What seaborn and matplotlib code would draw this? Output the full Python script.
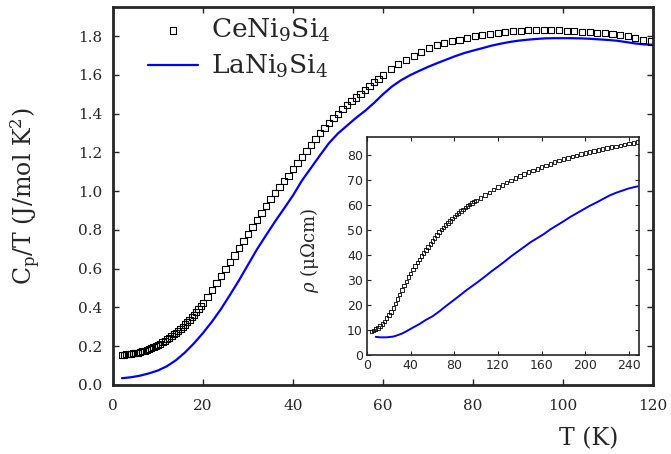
import numpy as np
import pandas as pd
import matplotlib
matplotlib.use('Agg')
import matplotlib.pyplot as plt
import seaborn as sns

# --- specific heat Cp/T (J/mol K^2) ---
ce_T = [2.0, 2.5, 3.0, 3.5, 4.0, 4.5, 5.0, 5.5, 6.0, 6.5, 7.0, 7.5, 8.0, 8.5, 9.0, 9.5,
        10.0, 10.5, 11.0, 11.5, 12.0, 12.5, 13.0, 13.5, 14.0, 14.5, 15.0, 15.5, 16.0, 16.5,
        17.0, 17.5, 18.0, 18.5, 19.0, 19.5, 20.0,
        21, 22, 23, 24, 25, 26, 27, 28, 29, 30, 31, 32, 33, 34, 35, 36, 37, 38, 39, 40,
        41, 42, 43, 44, 45, 46, 47, 48, 49, 50, 51, 52, 53, 54, 55, 56, 57, 58, 59, 60,
        61.7, 63.4, 65.1, 66.8, 68.5, 70.2, 71.9, 73.6, 75.3, 77.0, 78.7, 80.4, 82.1, 83.8,
        85.5, 87.2, 88.9, 90.6, 92.3, 94.0, 95.7, 97.4, 99.1, 100.8, 102.5, 104.2, 105.9,
        107.6, 109.3, 111.0, 112.7, 114.4, 116.1, 117.8, 119.5]
ce_cp = [0.155, 0.157, 0.158, 0.159, 0.161, 0.163, 0.165, 0.167, 0.170, 0.173, 0.177, 0.181,
         0.186, 0.191, 0.196, 0.201, 0.207, 0.213, 0.220, 0.227, 0.235, 0.243, 0.252, 0.261,
         0.270, 0.280, 0.290, 0.301, 0.312, 0.324, 0.337, 0.350, 0.363, 0.377, 0.392, 0.407,
         0.423,
         0.455, 0.490, 0.525, 0.560, 0.597, 0.633, 0.668, 0.705, 0.742, 0.778, 0.815, 0.852,
         0.888, 0.924, 0.958, 0.990, 1.020, 1.050, 1.080, 1.112,
         1.144, 1.176, 1.208, 1.240, 1.270, 1.298, 1.325, 1.350, 1.376, 1.400, 1.422, 1.443,
         1.463, 1.483, 1.503, 1.523, 1.543, 1.562, 1.580, 1.598,
         1.628, 1.655, 1.677, 1.697, 1.718, 1.737, 1.752, 1.763, 1.773, 1.782, 1.790, 1.798,
         1.806, 1.812, 1.818, 1.822, 1.826, 1.828, 1.830, 1.831, 1.833, 1.833, 1.831, 1.828,
         1.824, 1.821, 1.819, 1.818, 1.815, 1.812, 1.806, 1.798, 1.790, 1.780, 1.772]

la_T = [2, 4, 6, 8, 10, 12, 14, 16, 18, 20, 22, 24, 26, 28, 30, 32, 34, 36, 38, 40, 42, 44,
        46, 48, 50, 52, 54, 56, 58, 60, 62, 64, 66, 68, 70, 72, 74, 76, 78, 80, 82, 84, 86,
        88, 90, 92, 94, 96, 98, 100, 102, 104, 106, 108, 110, 112, 114, 116, 118, 120]
la_cp = [0.035, 0.040, 0.048, 0.060, 0.075, 0.097, 0.128, 0.168, 0.215, 0.268, 0.327, 0.392,
         0.465, 0.540, 0.620, 0.700, 0.772, 0.843, 0.910, 0.978, 1.055, 1.120, 1.185, 1.248,
         1.298, 1.338, 1.378, 1.414, 1.455, 1.500, 1.540, 1.572, 1.598, 1.620, 1.641, 1.660,
         1.678, 1.696, 1.712, 1.725, 1.737, 1.750, 1.760, 1.769, 1.776, 1.781, 1.785, 1.788,
         1.789, 1.789, 1.789, 1.788, 1.786, 1.783, 1.780, 1.776, 1.769, 1.762, 1.757, 1.755]

# --- resistivity (inset), micro-ohm cm ---
ce_rT = [4, 6, 8, 10, 12, 14, 16, 18, 20, 22, 24, 26, 28, 30, 32, 34, 36, 38,
         40, 42, 44, 46, 48, 50, 52, 54, 56, 58, 60, 62, 64, 66, 68, 70, 72, 74, 76, 78,
         80, 82, 84, 86, 88, 90, 92, 94, 96, 98, 100,
         104, 108, 112, 116, 120, 124, 128, 132, 136, 140, 144, 148, 152, 156, 160, 164,
         168, 172, 176, 180, 184, 188, 192, 196, 200, 204, 208, 212, 216, 220, 224, 228,
         232, 236, 240, 244, 248]
ce_rho = [9.3, 9.7, 10.2, 10.7, 11.5, 12.3, 13.3, 14.6, 15.9, 17.1, 18.6, 20.4, 22.3, 24.1,
          25.9, 27.6, 29.3, 31.0,
          32.5, 34.0, 35.5, 36.8, 38.1, 39.4, 40.7, 41.9, 43.1, 44.3, 45.5, 46.6, 47.9, 49.0,
          50.0, 50.9, 51.8, 52.6, 53.5, 54.4, 55.2, 56.0, 56.7, 57.4, 58.1, 58.8, 59.5, 60.1,
          60.7, 61.2, 61.7,
          62.7, 63.8, 64.9, 66.0, 67.0, 67.9, 68.8, 69.7, 70.6, 71.4, 72.2, 73.0, 73.7, 74.3,
          75.0, 75.7, 76.3, 77.0, 77.6, 78.2, 78.7, 79.2, 79.7, 80.2, 80.6, 81.1, 81.5, 81.9,
          82.3, 82.7, 83.0, 83.3, 83.7, 84.0, 84.4, 84.7, 85.1]

la_rT = [8, 12, 18, 24, 27, 32, 36, 42, 48, 54, 60, 66, 72, 78, 84, 90, 96, 102, 108, 114,
         120, 126, 132, 138, 144, 150, 156, 162, 168, 174, 180, 186, 192, 198, 204, 210, 216,
         222, 228, 234, 240, 248]
la_rho = [7.1, 6.9, 6.9, 7.2, 7.6, 8.4, 9.3, 10.8, 12.2, 13.9, 15.3, 17.2, 19.3, 21.3, 23.3,
          25.4, 27.3, 29.2, 31.2, 33.3, 35.2, 37.2, 39.3, 41.2, 43.1, 45.0, 46.6, 48.2, 50.1,
          51.7, 53.3, 55.0, 56.5, 58.0, 59.5, 60.8, 62.2, 63.6, 64.7, 65.6, 66.5, 67.3]

ce = pd.DataFrame({'T': ce_T, 'cp': ce_cp})
la = pd.DataFrame({'T': la_T, 'cp': la_cp})
ce_r = pd.DataFrame({'T': ce_rT, 'rho': ce_rho})
la_r = pd.DataFrame({'T': la_rT, 'rho': la_rho})

sns.set_style('ticks')
plt.rcParams['font.family'] = ['DejaVu Serif']
plt.rcParams['mathtext.fontset'] = 'dejavuserif'
plt.rcParams['mathtext.default'] = 'regular'

fig = plt.figure(figsize=(6.71, 4.54), dpi=100)
ax = fig.add_axes([0.1684, 0.152, 0.8048, 0.8326])

sns.scatterplot(data=ce, x='T', y='cp', ax=ax, marker='s', s=19, facecolor='none',
                edgecolor='black', linewidth=0.8, label='CeNi$_9$Si$_4$', zorder=3)
sns.lineplot(data=la, x='T', y='cp', ax=ax, color='#0000ff', linewidth=1.6,
             label='LaNi$_9$Si$_4$', zorder=2)

ax.set_xlim(0, 120)
ax.set_ylim(0, 1.95)
ax.set_xticks(np.arange(0, 121, 20))
ax.set_yticks(np.arange(0, 1.81, 0.2))
ax.set_yticklabels(['%.1f' % v for v in np.arange(0, 1.81, 0.2)])
ax.tick_params(direction='in', top=True, right=True, length=4, width=1.0, labelsize=11)
ax.tick_params(axis='x', pad=10)
ax.tick_params(axis='y', pad=8)
for sp in ax.spines.values():
    sp.set_linewidth(2.0)
ax.set_xlabel('T (K)', fontsize=17)
ax.xaxis.set_label_coords(0.881, -0.112)
ax.set_ylabel('C$_p$/T (J/mol K$^2$)', fontsize=17)
ax.yaxis.set_label_coords(-0.13, 0.50)

leg = ax.legend(loc='upper left', bbox_to_anchor=(0.065, 0.975), frameon=False, fontsize=19,
                handlelength=1.9, handletextpad=0.5, labelspacing=0.35, borderpad=0,
                borderaxespad=0)

# inset: resistivity
ins = fig.add_axes([0.547, 0.219, 0.405, 0.479])
sns.scatterplot(data=ce_r, x='T', y='rho', ax=ins, marker='s', s=6, facecolor='none',
                edgecolor='black', linewidth=0.6, zorder=3)
sns.lineplot(data=la_r, x='T', y='rho', ax=ins, color='#0000ff', linewidth=1.4, zorder=2)
ins.set_xlim(0, 249)
ins.set_ylim(0, 87)
ins.set_xticks(np.arange(0, 241, 40))
ins.set_yticks(np.arange(0, 81, 10))
ins.tick_params(direction='in', top=True, right=True, length=3, width=0.8, labelsize=9,
                pad=3)
for lab in ins.get_xticklabels() + ins.get_yticklabels():
    lab.set_family('DejaVu Sans')
for sp in ins.spines.values():
    sp.set_linewidth(1.2)
ins.set_xlabel('')
ins.set_ylabel(r'$\it{\rho}$ ($\mu\Omega$cm)', fontsize=13)
ins.yaxis.set_label_coords(-0.17, 0.48)

fig.savefig('out.png', dpi=100)
